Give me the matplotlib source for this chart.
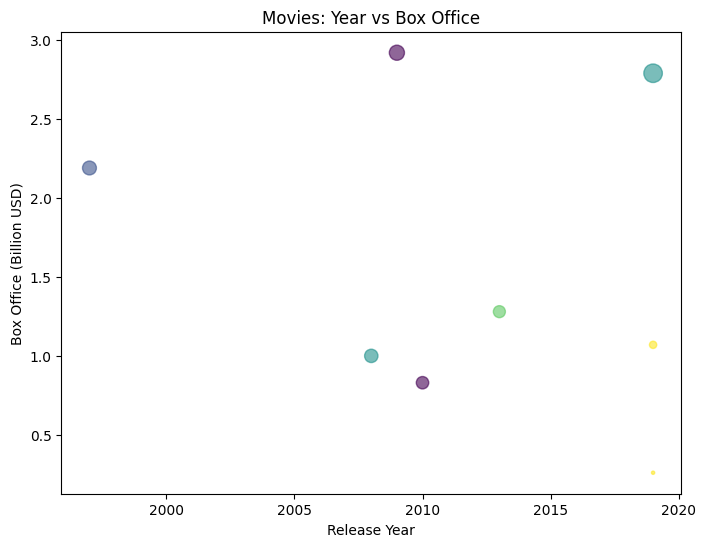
import matplotlib
matplotlib.use('Agg')
import matplotlib.pyplot as plt

# Datos de las películas
titles = ['Titanic', 'Avatar', 'Avengers: Endgame', 'Frozen',
          'The Dark Knight', 'Inception', 'Joker', 'Parasite']
years = [1997, 2009, 2019, 2013, 2008, 2010, 2019, 2019]
box_office = [2.19, 2.92, 2.79, 1.28, 1.00, 0.83, 1.07, 0.26]
budget = [200, 237, 356, 150, 185, 160, 55, 11]  # millones USD
genre_code = [1, 0, 2, 3, 2, 0, 4, 4]

sizes = [b / 2 for b in budget]

plt.figure(figsize=(8, 6))
plt.scatter(years, box_office, s=sizes, c=genre_code, cmap='viridis', alpha=0.6)
plt.title('Movies: Year vs Box Office')
plt.xlabel('Release Year')
plt.ylabel('Box Office (Billion USD)')

plt.savefig('out.png', bbox_inches='tight')
